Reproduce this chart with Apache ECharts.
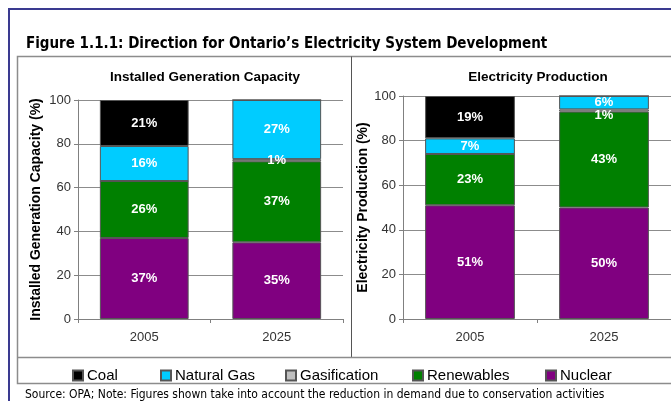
<!DOCTYPE html>
<html>
<head>
<meta charset="utf-8">
<script src="https://cdn.jsdelivr.net/npm/echarts@6/dist/echarts.min.js"></script>
<style>html,body{margin:0;padding:0;background:#fff}#c{width:671px;height:401px}</style>
</head>
<body>
<div id="c"></div>
<script>
const years = ['2005', '2025'];
const seriesNames = ['Coal', 'Natural Gas', 'Gasification', 'Renewables', 'Nuclear'];
// Installed Generation Capacity (%)
const capNuclear = [37, 35];
const capRenewables = [26, 37];
const capGasification = [0, 1];
const capNaturalGas = [16, 27];
const capCoal = [21, 0];
// Electricity Production (%)
const prodNuclear = [51, 50];
const prodRenewables = [23, 43];
const prodGasification = [0, 1];
const prodNaturalGas = [7, 6];
const prodCoal = [19, 0];
const yTicks = [0, 20, 40, 60, 80, 100];

const colors = {
  'Coal': '#000000',
  'Natural Gas': '#00CCFF',
  'Gasification': '#C0C0C0',
  'Renewables': '#008000',
  'Nuclear': '#800080'
};
const FONT = 'Liberation Sans, Arial, sans-serif';

function mk(name, data, idx, stack, offset) {
  return {
    name: name, type: 'bar', stack: stack, xAxisIndex: idx, yAxisIndex: idx,
    data: data, barWidth: '67%',
    itemStyle: { color: colors[name], borderColor: '#555', borderWidth: 1 },
    label: {
      show: true, position: 'inside', color: '#fff', fontWeight: 'bold',
      fontSize: 13, fontFamily: FONT, offset: offset || [0, 0],
      formatter: p => p.value ? p.value + '%' : ''
    },
    emphasis: { disabled: true }
  };
}

function yAx(idx, name, gap) {
  return {
    gridIndex: idx, type: 'value', min: yTicks[0], max: yTicks[yTicks.length - 1], interval: 20,
    name: name, nameLocation: 'middle', nameGap: gap, nameRotate: 90,
    nameTextStyle: { fontSize: 14, fontWeight: 'bold', color: '#000', fontFamily: FONT },
    axisLine: { show: true, lineStyle: { color: '#808080' } },
    axisTick: { show: true, length: 4, lineStyle: { color: '#808080' } },
    axisLabel: { fontSize: 13, color: '#333', fontFamily: FONT, margin: 7 },
    splitLine: { show: true, lineStyle: { color: '#8c8c8c', width: 1 } }
  };
}
function xAx(idx) {
  return {
    gridIndex: idx, type: 'category', data: years,
    axisLine: { show: true, lineStyle: { color: '#808080' } },
    axisTick: { show: true, length: 4, lineStyle: { color: '#808080' } },
    axisLabel: { fontSize: 13, color: '#333', fontFamily: FONT, margin: 12 }
  };
}

const legendLefts = [67, 155, 280, 407, 540];
const legends = seriesNames.map((n, i) => ({
  data: [n], left: legendLefts[i], top: 363, icon: 'rect', itemWidth: 10, itemHeight: 10,
  itemGap: 4, selectedMode: false,
  textStyle: { fontSize: 15, color: '#000', fontFamily: FONT, padding: [0, 0, 0, -1] }
}));

const chart = echarts.init(document.getElementById('c'), null, { renderer: 'canvas' });
chart.setOption({
  animation: false,
  backgroundColor: '#fff',
  title: [
    { text: 'Figure 1.1.1: Direction for Ontario\u2019s Electricity System Development', left: 21, top: 32,
      textStyle: { fontSize: 15, fontWeight: 'bold', color: '#000', fontFamily: 'DejaVu Sans Condensed, sans-serif' } },
    { text: 'Installed Generation Capacity', left: 200, top: 65, textAlign: 'center',
      textStyle: { fontSize: 13.5, fontWeight: 'bold', color: '#000', fontFamily: FONT } },
    { text: 'Electricity Production', left: 533, top: 65, textAlign: 'center',
      textStyle: { fontSize: 13.5, fontWeight: 'bold', color: '#000', fontFamily: FONT } },
    { text: 'Source: OPA; Note: Figures shown take into account the reduction in demand due to conservation activities',
      left: 20, top: 384, textStyle: { fontSize: 12, fontWeight: 'normal', color: '#000', fontFamily: 'DejaVu Sans Condensed, sans-serif' } }
  ],
  legend: legends,
  grid: [
    { left: 78, top: 100, width: 265, height: 219 },
    { left: 403, top: 96, width: 272, height: 223 }
  ],
  xAxis: [xAx(0), xAx(1)],
  yAxis: [yAx(0, 'Installed Generation Capacity (%)', 35), yAx(1, 'Electricity Production (%)', 24)],
  series: [
    mk('Nuclear', capNuclear, 0, 'cap'),
    mk('Renewables', capRenewables, 0, 'cap'),
    mk('Gasification', capGasification, 0, 'cap'),
    mk('Natural Gas', capNaturalGas, 0, 'cap'),
    mk('Coal', capCoal, 0, 'cap'),
    mk('Nuclear', prodNuclear, 1, 'prod'),
    mk('Renewables', prodRenewables, 1, 'prod'),
    mk('Gasification', prodGasification, 1, 'prod', [0, 5]),
    mk('Natural Gas', prodNaturalGas, 1, 'prod'),
    mk('Coal', prodCoal, 1, 'prod')
  ],
  graphic: [
    { type: 'rect', shape: { x: 9, y: 9, width: 720, height: 440 }, style: { fill: 'none', stroke: '#3a3a90', lineWidth: 2 }, silent: true },
    { type: 'rect', shape: { x: 17.5, y: 56.5, width: 720, height: 327 }, style: { fill: 'none', stroke: '#8c8c8c', lineWidth: 1.5 }, silent: true },
    { type: 'line', shape: { x1: 351.5, y1: 56.5, x2: 351.5, y2: 358 }, style: { stroke: '#555', lineWidth: 1 }, silent: true },
    { type: 'line', shape: { x1: 17.5, y1: 357.5, x2: 680, y2: 357.5 }, style: { stroke: '#8c8c8c', lineWidth: 1.5 }, silent: true }
  ]
});
</script>
</body>
</html>
